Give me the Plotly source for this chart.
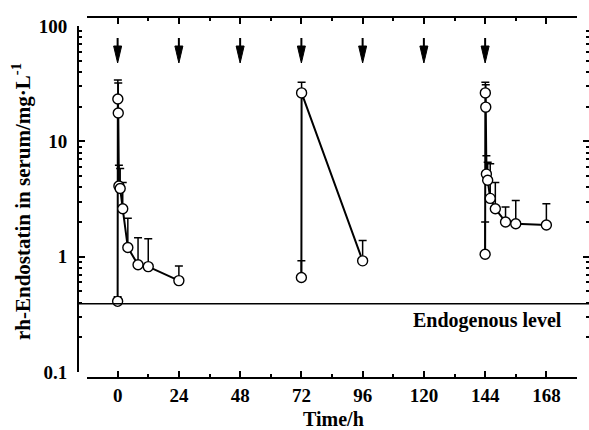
import plotly.graph_objects as go

# ---------------- data ----------------
t1 = [0, 0.083, 0.25, 0.5, 1, 2, 4, 8, 12, 24]
c1 = [0.41, 23.3, 17.6, 4.1, 3.9, 2.6, 1.2, 0.85, 0.82, 0.62]
sd1 = [0.04, 10.7, 14.4, 2.1, 1.9, 1.8, 0.95, 0.61, 0.61, 0.21]

t2 = [72, 72.083, 96]
c2 = [0.66, 26.3, 0.92]
sd2 = [0.26, 6.2, 0.46]

t3 = [144, 144.083, 144.25, 144.5, 145, 146, 148, 152, 156, 168]
c3 = [1.05, 26.3, 19.8, 5.2, 4.6, 3.2, 2.6, 2.0, 1.93, 1.88]
sd3 = [0.95, 6.2, 11.2, 2.3, 2.0, 3.2, 1.8, 0.7, 1.14, 1.0]

dose_times = [0, 24, 48, 72, 96, 120, 144]
endogenous_level = 0.39

x_ticks = [0, 24, 48, 72, 96, 120, 144, 168]
x_minor = [-12, 12, 36, 60, 84, 108, 132, 156, 180]
y_ticks = [0.1, 1, 10, 100]
y_ticktext = ["0.1", "1", "10", "100"]
y_minor = [k * 10 ** e for e in (-1, 0, 1) for k in range(2, 10)]

# ---------------- layout geometry ----------------
W, H = 589, 430
ML, MR, MT, MB = 78, 0, 17, 52
PW, PH = W - ML - MR, H - MT - MB


def px_x(px):
    return (px - ML) / PW


def px_y(py):
    return (H - MB - py) / PH


XDOM = [px_x(87), px_x(577)]
YDOM = [px_y(372), px_y(26)]
XR = [-12, 180]
FONT = "Liberation Serif"
tickfont = dict(family=FONT, size=19, color="black", weight="bold")

fig = go.Figure()

for t, c, sd in [(t1, c1, sd1), (t2, c2, sd2), (t3, c3, sd3)]:
    fig.add_trace(go.Scatter(
        x=t, y=c, mode="lines+markers",
        line=dict(color="black", width=2),
        marker=dict(symbol="circle", size=10, color="white",
                    line=dict(width=1.4, color="black")),
        error_y=dict(type="data", symmetric=False, array=sd,
                     arrayminus=[0] * len(sd), color="black",
                     thickness=1.5, width=4),
        showlegend=False, hoverinfo="skip"))

# invisible trace to activate the frame axes (top / right)
fig.add_trace(go.Scatter(x=t1, y=c1, xaxis="x2", yaxis="y2", mode="markers",
                         marker=dict(opacity=0), showlegend=False, hoverinfo="skip"))

shapes = [dict(type="line", xref="paper", x0=0, x1=1, yref="y",
               y0=endogenous_level, y1=endogenous_level,
               line=dict(color="black", width=1.5))]

px_per_h = (577 - 87) / (XR[1] - XR[0])
hw = 4 / px_per_h
for t in dose_times:
    shapes.append(dict(type="line", xref="x", yref="paper", x0=t, x1=t,
                       y0=px_y(38), y1=px_y(47),
                       line=dict(color="black", width=2)))
    shapes.append(dict(type="path", xref="x", yref="paper",
                       path=f"M {t - hw},{px_y(46)} L {t + hw},{px_y(46)} L {t},{px_y(63)} Z",
                       fillcolor="black", line=dict(color="black", width=1)))

annotations = [
    dict(text="Endogenous level", xref="paper", yref="paper",
         x=px_x(564), y=px_y(320), xanchor="right", yanchor="middle",
         showarrow=False, font=dict(family=FONT, size=20, color="black", weight="bold")),
    dict(text="Time/h", xref="paper", yref="paper",
         x=px_x(333), y=px_y(419), xanchor="center", yanchor="middle",
         showarrow=False, font=dict(family=FONT, size=20, color="black", weight="bold")),
    dict(text="rh-Endostatin in serum/mg·L<sup>-1</sup>", xref="paper", yref="paper",
         x=px_x(21), y=px_y(202), xanchor="center", yanchor="middle", textangle=-90,
         showarrow=False, font=dict(family=FONT, size=21, color="black", weight="bold")),
]

common_x = dict(domain=XDOM, range=XR, showgrid=False, zeroline=False,
                showline=True, linecolor="black", linewidth=2, automargin=False,
                ticks="inside", ticklen=6, tickwidth=1.5, tickcolor="black",
                tickmode="array", tickvals=x_ticks,
                minor=dict(tickmode="array", tickvals=x_minor, ticks="inside",
                           ticklen=3, tickwidth=1.5, tickcolor="black"))
common_y = dict(domain=YDOM, type="log", range=[-1, 2], showgrid=False,
                zeroline=False, ticks="inside", ticklen=6, tickwidth=1.5,
                tickcolor="black", tickmode="array", tickvals=y_ticks,
                ticktext=y_ticktext, automargin=False,
                minor=dict(tickmode="array", tickvals=y_minor, ticks="inside",
                           ticklen=3, tickwidth=1.5, tickcolor="black"))

fig.update_layout(
    width=W, height=H, margin=dict(l=ML, r=MR, t=MT, b=MB, autoexpand=False),
    paper_bgcolor="white", plot_bgcolor="rgba(0,0,0,0)",
    xaxis=dict(**common_x, anchor="free", position=0, side="bottom",
               ticktext=[str(v) for v in x_ticks], tickfont=tickfont,
               ticklabelstandoff=0),
    xaxis2=dict(**common_x, anchor="free", position=1, side="top",
                showticklabels=False),
    yaxis=dict(**common_y, anchor="free", position=0, side="left",
               showline=True, linecolor="black", linewidth=2,
               tickfont=tickfont, ticklabelstandoff=6),
    yaxis2=dict(**common_y, anchor="free", position=1, side="right",
                showline=False, showticklabels=False),
    shapes=shapes, annotations=annotations,
)

fig.write_html("out.html", config={"displayModeBar": False},
               post_script="document.body.style.margin='0';document.body.style.overflow='hidden';")
